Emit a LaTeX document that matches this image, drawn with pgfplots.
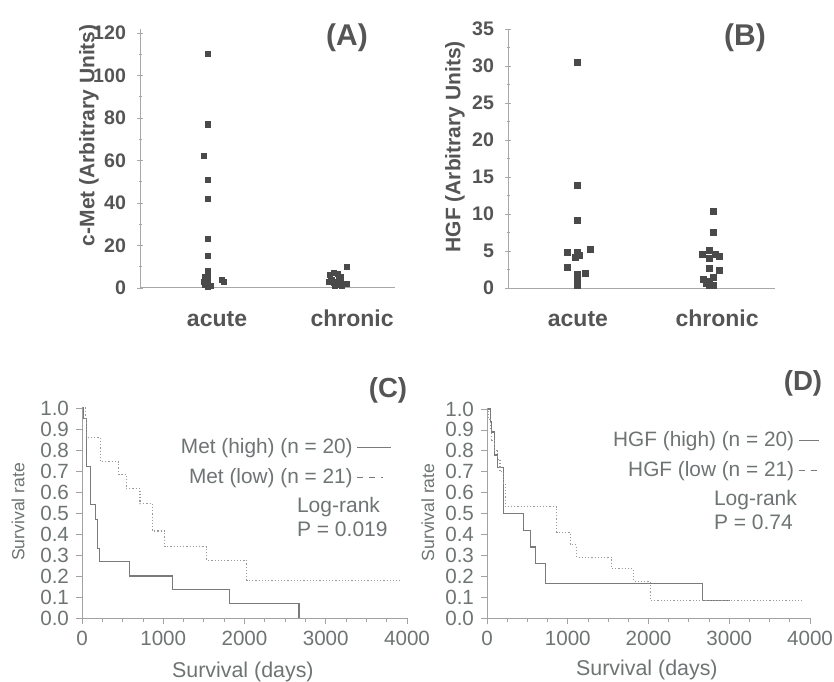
\documentclass[border=0pt]{standalone}
\usepackage{fontspec}
\setmainfont{Liberation Sans}
\usepackage{pgfplots}
\pgfplotsset{compat=1.18}
\definecolor{txt}{HTML}{555555}
\definecolor{mk}{HTML}{4A4A4A}
\definecolor{axc}{HTML}{A8A8A8}
\definecolor{ltxt}{HTML}{6E7373}
\definecolor{ln}{HTML}{7A7A7A}
\definecolor{ldot}{HTML}{9A9A9A}
\begin{document}
\begin{tikzpicture}
\useasboundingbox (0pt,0pt) rectangle (417pt,340.5pt);
\pgfplotsset{
  topax/.style={
    scale only axis, anchor=south west,
    axis x line=bottom, axis y line=left,
    axis line style={axc, line width=0.5pt, -},
    every tick/.style={axc},
    ymin=0, enlargelimits=false, clip=false,
    tick label style={font=\fontsize{9.8}{10}\selectfont\bfseries, text=txt},
    /pgf/number format/assume math mode=true,
    ylabel style={font=\fontsize{10.5}{11}\selectfont\bfseries, text=txt, anchor=center},
    major tick length=3pt, minor tick length=1.5pt,
    y tick label style={xshift=-2pt},
    x tick label style={font=\fontsize{11.5}{12}\selectfont\bfseries, text=txt, yshift=-6pt,
      text height=1.6ex, text depth=0.3ex},
  },
  botax/.style={
    scale only axis, anchor=south west,
    axis x line=bottom, axis y line=left,
    axis line style={ln!70, line width=0.4pt, -},
    every tick/.style={ln!70},
    xmin=0, xmax=4000, ymin=0, ymax=1, clip=false,
    xtick={0,1000,2000,3000,4000}, minor x tick num=3,
    ytick={0,0.1,...,1.0},
    yticklabel style={/pgf/number format/.cd, fixed, fixed zerofill, precision=1},
    scaled x ticks=false,
    xticklabel style={/pgf/number format/.cd, set thousands separator={}},
    tick label style={font=\fontsize{10.3}{11}\selectfont, text=ltxt},
    /pgf/number format/assume math mode=true,
    tick align=outside, major tick length=3pt, minor tick length=2pt,
    ylabel style={font=\fontsize{8.8}{9}\selectfont, text=ltxt, anchor=center},
    xlabel style={font=\fontsize{10.7}{11}\selectfont, text=ltxt, anchor=center},
    legend plot pos=right, legend cell align=right,
    legend style={draw=none, fill=none, font=\fontsize{10.4}{11}\selectfont, text=ltxt,
      row sep=2pt, inner sep=0pt},
  },
}
% ---------------- (A)
\begin{axis}[topax, at={(70pt,196.5pt)}, width=127.5pt, height=129.5pt,
  xmin=0.477, xmax=2.44, ymax=121.9,
  xtick={1.07,2.11}, xticklabels={acute,chronic}, major x tick style={draw=none},
  extra x ticks={1.54}, extra x tick labels={}, extra x tick style={major tick length=4pt, tick style={axc}},
  ytick={0,20,...,120}, minor y tick num=1,
  ylabel={c-Met (Arbitrary Units)},
  ylabel style={at={(axis description cs:-0.2,0.59)}},
]
\addplot[only marks, mark=square*, mark size=1.3pt, color=mk] coordinates {
(1.0,110) (1.0,77) (0.97,62) (1.0,51) (1.0,42) (1.0,23) (1.0,15)
(1.0,8) (1.0,6.5) (0.98,5) (1.0,4) (0.97,3) (1.0,2) (0.98,1.5) (1.02,1) (1.0,0.5)
(1.11,4) (1.12,3)
(1.94,6) (1.97,7) (2.0,6.5) (2.02,5) (1.95,4) (2.0,3) (1.97,2.5) (2.04,2)
(2.07,2) (2.0,1.5) (1.98,1) (2.03,0.8) (2.07,9.8) (1.93,3) (2.01,4.5)
};
\node[font=\fontsize{15}{15}\selectfont\bfseries, text=txt] at (axis cs:2.07,117.6) {(A)};
\end{axis}
% ---------------- (B)
\begin{axis}[topax, at={(254pt,196.5pt)}, width=133.5pt, height=129.5pt,
  xmin=0.493, xmax=2.456, ymax=35,
  xtick={1.007,2.03}, xticklabels={acute,chronic}, major x tick style={draw=none},
  extra x ticks={1.49}, extra x tick labels={}, extra x tick style={major tick length=4pt, tick style={axc}},
  ytick={0,5,...,35}, minor y tick num=1,
  ylabel={HGF (Arbitrary Units)},
  ylabel style={at={(axis description cs:-0.199,0.545)}},
]
\addplot[only marks, mark=square*, mark size=1.5pt, color=mk] coordinates {
(1,30.5) (1,13.8) (1,9.2) (0.926,4.8) (1,4.8) (1.02,4.4) (0.99,4.2) (1.1,5.2)
(0.926,2.8) (1.06,2.0) (1,1.8) (1,1.3) (1,0.8) (1,0.4)
(2,10.3) (2,7.5) (1.92,4.6) (1.97,5.1) (2.02,4.6) (1.97,4.0) (2.05,4.3)
(1.97,2.6) (2.05,2.4) (1.93,1.2) (1.97,0.9) (2.0,1.4) (1.95,0.6) (2.0,0.4) (1.97,0.3)
};
\node[font=\fontsize{15}{15}\selectfont\bfseries, text=txt] at (axis cs:2.235,33.8) {(B)};
\end{axis}
% ---------------- (C)
\begin{axis}[botax, at={(41pt,31.5pt)}, width=162.5pt, height=105pt,
  ylabel={Survival rate}, ylabel style={at={(axis description cs:-0.197,0.505)}},
  xlabel={Survival (days)}, xlabel style={at={(axis description cs:0.495,-0.257)}},
  legend style={at={(axis description cs:0.955,0.875)}, anchor=north east},
]
\addplot[const plot, color=ln, line width=0.6pt] coordinates {
(0,1.0) (20,0.95) (53,0.72) (100,0.54) (170,0.47) (190,0.33) (215,0.27)
(585,0.20) (1117,0.135) (1812,0.068) (2670,0.0) (2670,0.0)
};
\addlegendentry{Met (high) (n = 20)}
\addplot[const plot, color=ldot, densely dotted, line width=0.6pt,
  legend image code/.code={\draw[ln, dashed, dash pattern=on 3pt off 3pt, line width=0.6pt] (0pt,0pt) -- (13pt,0pt);}] coordinates {
(0,1) (40,0.95) (60,0.86) (225,0.745) (450,0.685) (545,0.615) (715,0.545)
(870,0.414) (1020,0.339) (1535,0.275) (2025,0.18) (3910,0.18)
};
\addlegendentry{Met (low) (n = 21)}
\node[font=\fontsize{13.8}{14}\selectfont\bfseries, text=txt] at (axis cs:3766,1.086) {(C)};
\node[font=\fontsize{10.5}{11}\selectfont, text=ltxt, anchor=west, align=left] at (axis cs:2560,0.48) {Log-rank\\[1pt]P = 0.019};
\end{axis}
% ---------------- (D)
\begin{axis}[botax, at={(243.5pt,31.5pt)}, width=161.5pt, height=104.5pt,
  ylabel={Survival rate}, ylabel style={at={(axis description cs:-0.183,0.505)}},
  xlabel={Survival (days)}, xlabel style={at={(axis description cs:0.495,-0.248)}},
  legend style={at={(axis description cs:1.03,0.915)}, anchor=north east},
]
\addplot[const plot, color=ln, line width=0.6pt,
  legend image code/.code={\draw[ln, line width=0.5pt] (0pt,0pt) -- (10pt,0pt);}] coordinates {
(0,1) (40,0.94) (60,0.89) (90,0.78) (125,0.72) (200,0.5) (455,0.42)
(535,0.34) (600,0.26) (720,0.165) (2670,0.082) (3010,0.082)
};
\addlegendentry{HGF (high) (n = 20)}
\addplot[const plot, color=ldot, densely dotted, line width=0.6pt,
  legend image code/.code={\draw[ln, dashed, dash pattern=on 3pt off 3pt, line width=0.6pt] (0pt,0pt) -- (10pt,0pt);}] coordinates {
(0,1) (20,0.95) (40,0.9) (60,0.85) (90,0.8) (130,0.76) (160,0.7) (200,0.64)
(225,0.533) (865,0.41) (1030,0.35) (1110,0.29) (1545,0.235) (1815,0.175)
(2020,0.085) (3900,0.085)
};
\addlegendentry{HGF (low (n = 21)}
\node[font=\fontsize{13.8}{14}\selectfont\bfseries, text=txt] at (axis cs:3913,1.124) {(D)};
\node[font=\fontsize{10.5}{11}\selectfont, text=ltxt, anchor=west, align=left] at (axis cs:2724,0.517) {Log-rank\\[1pt]P = 0.74};
\end{axis}
\end{tikzpicture}
\end{document}
